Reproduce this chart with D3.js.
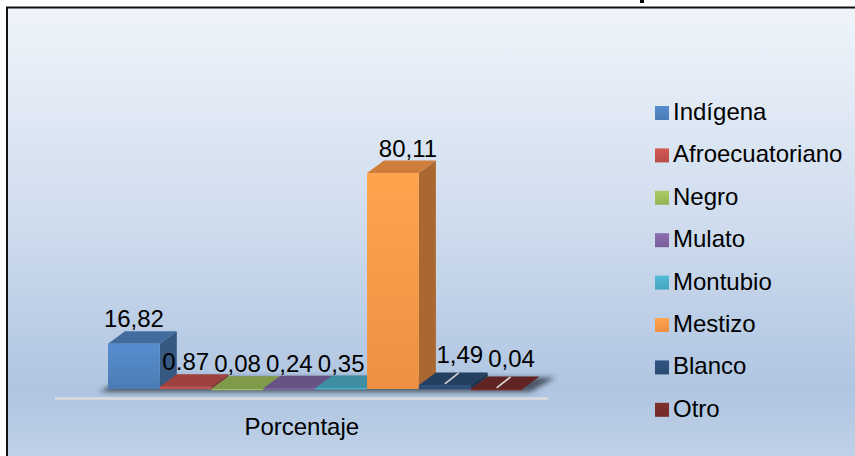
<!DOCTYPE html>
<html>
<head>
<meta charset="utf-8">
<script src="https://cdn.jsdelivr.net/npm/d3@7"></script>
<style>
  body { margin: 0; background: #fff; }
  svg { display: block; font-family: "Liberation Sans", Arial, sans-serif; }
</style>
</head>
<body>
<div id="chart"></div>
<script>
// data
var categories = ["Indígena", "Afroecuatoriano", "Negro", "Mulato", "Montubio", "Mestizo", "Blanco", "Otro"];
var values = [16.82, 0.87, 0.08, 0.24, 0.35, 80.11, 1.49, 0.04];
var valueLabels = ["16,82", "0.87", "0,08", "0,24", "0,35", "80,11", "1,49", "0,04"];
var groupLabel = "Porcentaje";
var movedLabels = ["Blanco", "Otro"];   // labels that carry a leader line

var colors = ["#4f81bd", "#c0504d", "#9bbb59", "#8064a2", "#4bacc6", "#f79646", "#2c4d75", "#772c2a"];

var width = 855, height = 456;
var depthX = 17, depthY = -12.5;
var fontSize = 24;

var svg = d3.select("#chart").append("svg")
    .attr("width", width)
    .attr("height", height);

var defs = svg.append("defs");

// chart area background
var bg = defs.append("linearGradient").attr("id", "bg")
    .attr("x1", 0).attr("y1", 0).attr("x2", 0).attr("y2", 1);
bg.append("stop").attr("offset", "0%").attr("stop-color", "#eff4fa");
bg.append("stop").attr("offset", "45%").attr("stop-color", "#d0ddee");
bg.append("stop").attr("offset", "82%").attr("stop-color", "#afc5e1");
bg.append("stop").attr("offset", "100%").attr("stop-color", "#c3d4e9");

var blur = defs.append("filter").attr("id", "blur")
    .attr("x", "-20%").attr("y", "-50%").attr("width", "140%").attr("height", "200%");
blur.append("feGaussianBlur").attr("stdDeviation", 2.5);

colors.forEach(function(c, i) {
  var g = defs.append("linearGradient").attr("id", "front" + i)
      .attr("x1", 0).attr("y1", 0).attr("x2", 0).attr("y2", 1);
  g.append("stop").attr("offset", "0%").attr("stop-color", d3.color(c).brighter(0.25));
  g.append("stop").attr("offset", "100%").attr("stop-color", d3.color(c).darker(0.12));
});

svg.append("rect")
    .attr("x", 7).attr("y", 7.5)
    .attr("width", width + 10).attr("height", height + 10)
    .attr("fill", "url(#bg)")
    .attr("stroke", "#111")
    .attr("stroke-width", 2);

// tail of the cut-off title
svg.append("rect").attr("x", 640).attr("y", 0).attr("width", 4).attr("height", 3).attr("fill", "#000");

// scales
var x = d3.scaleBand().domain(categories).range([108, 522.5]).padding(0);
var y = d3.scaleLinear().domain([0, 90]).range([389, 146.4]);

var base = y(0);
var x0 = x.range()[0], x1 = x.range()[1];

// category axis line
var axisLeft = x0 - 53, axisRight = x1 + 26;
svg.append("line")
    .attr("x1", axisLeft).attr("x2", axisRight)
    .attr("y1", base + 9.5).attr("y2", base + 9.5)
    .attr("stroke", "#dcdcdc")
    .attr("stroke-width", 2.5);

svg.append("text")
    .attr("x", (axisLeft + axisRight) / 2)
    .attr("y", base + 46)
    .attr("text-anchor", "middle")
    .attr("font-size", fontSize)
    .attr("fill", "#000")
    .text(groupLabel);

// shadow under the series
svg.append("polygon")
    .attr("points", [[x0 - 9, base + 3], [x1 + 8, base + 3], [x1 + depthX + 16, base + depthY + 1], [x0 + depthX, base + depthY + 1]]
      .map(function(p) { return p.join(","); }).join(" "))
    .attr("fill", "#2a3340")
    .attr("opacity", 0.75)
    .attr("filter", "url(#blur)");

// 3d bars, left to right so each covers the foot of the one before it
var bars = svg.selectAll(".bar")
    .data(categories)
  .enter().append("g")
    .attr("class", "bar");

bars.each(function(d, i) {
  var g = d3.select(this);
  var l = x(d), r = x(d) + x.bandwidth();
  var top = y(values[i]);
  var c = d3.color(colors[i]);

  g.append("polygon")
      .attr("points", [[r, top], [r + depthX, top + depthY], [r + depthX, base + depthY], [r, base]].join(" "))
      .attr("fill", c.darker(1.05));
  g.append("polygon")
      .attr("points", [[l, top], [l + depthX, top + depthY], [r + depthX, top + depthY], [r, top]].join(" "))
      .attr("fill", values[i] < 5 ? c.darker(0.55) : c.darker(0.5));
  g.append("rect")
      .attr("x", l).attr("y", top)
      .attr("width", x.bandwidth())
      .attr("height", Math.max(base - top, 1.5))
      .attr("fill", "url(#front" + i + ")");
});

// data labels
var labels = svg.selectAll(".val")
    .data(categories)
  .enter().append("g")
    .attr("class", "val");

labels.each(function(d, i) {
  var g = d3.select(this);
  var cx = x(d) + x.bandwidth() / 2;
  var top = y(values[i]);
  var moved = movedLabels.indexOf(d) >= 0;
  if (moved) {
    g.append("line")
        .attr("x1", cx).attr("y1", top - 1)
        .attr("x2", cx + 14).attr("y2", top - 12)
        .attr("stroke", "#d4d4d4")
        .attr("stroke-width", 1.6);
  }
  g.append("text")
      .attr("x", cx + (i >= 5 ? 15 : 0))
      .attr("y", top + depthY - (moved ? 9 : 4))
      .attr("text-anchor", "middle")
      .attr("font-size", fontSize)
      .attr("fill", "#000")
      .text(valueLabels[i]);
});

// legend
var legend = svg.selectAll(".legend")
    .data(categories)
  .enter().append("g")
    .attr("class", "legend")
    .attr("transform", function(d, i) { return "translate(655," + (113 + i * 42.4) + ")"; });

legend.append("rect")
    .attr("x", 0).attr("y", -7)
    .attr("width", 14).attr("height", 14)
    .attr("fill", function(d, i) { return "url(#front" + i + ")"; });

legend.append("text")
    .attr("x", 18)
    .attr("y", 7)
    .attr("font-size", fontSize)
    .attr("fill", "#000")
    .text(function(d) { return d; });
</script>
</body>
</html>
